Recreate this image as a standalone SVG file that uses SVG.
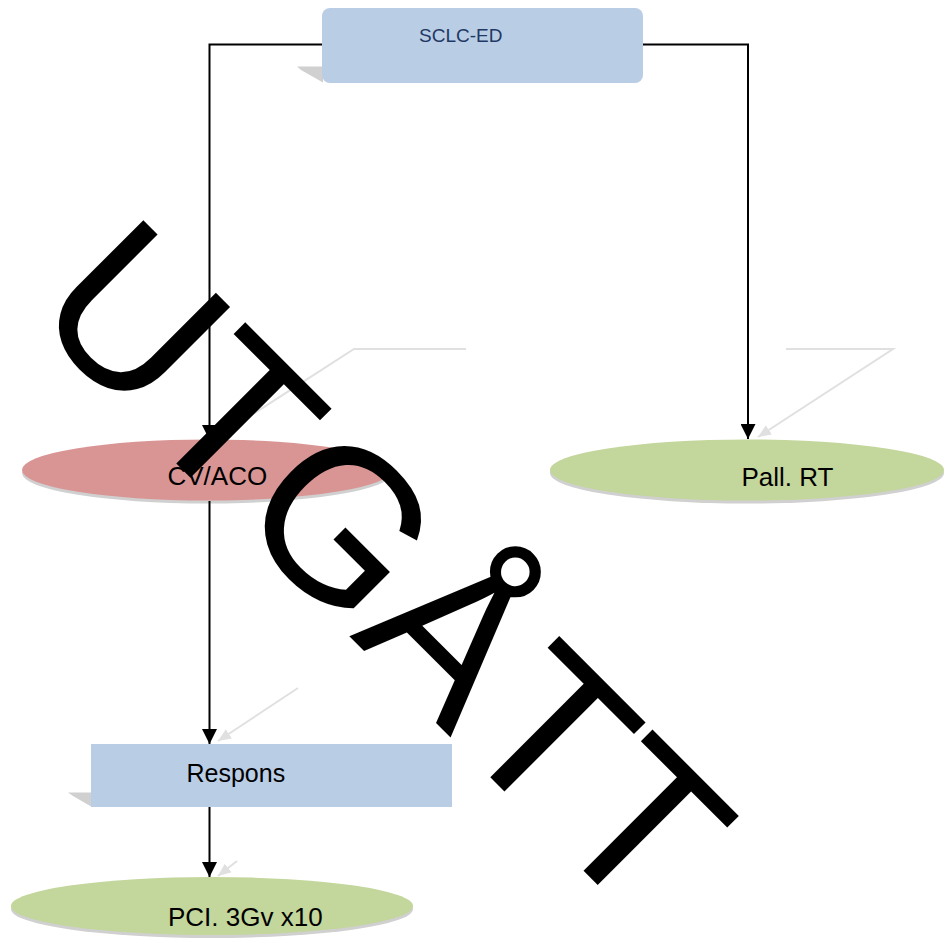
<svg xmlns="http://www.w3.org/2000/svg" width="945" height="940" viewBox="0 0 945 940">
<defs>
<style>
.lbl{font-family:"Liberation Sans",Arial,sans-serif;fill:#000}
.blue{fill:#B9CDE5}
.red{fill:#D99594}
.green{fill:#C3D69B}
.shadow{fill:#D0D0D0}
.conn{fill:none;stroke:#000;stroke-width:2}
.ghost{fill:none;stroke:#E0E0E0;stroke-width:2}
.wm{font-family:"Liberation Sans",Arial,sans-serif;font-size:216px;fill:#000}
</style>
<marker id="arr" viewBox="0 0 15 15" markerUnits="userSpaceOnUse" markerWidth="15" markerHeight="15" refX="15" refY="7.5" orient="auto">
<path d="M0,0 L15,7.5 L0,15 z" fill="#000"/>
</marker>
<marker id="garr" viewBox="0 0 13 11" markerUnits="userSpaceOnUse" markerWidth="13" markerHeight="11" refX="13" refY="5.5" orient="auto">
<path d="M0,0 L13,5.5 L0,11 z" fill="#E0E0E0"/>
</marker>
</defs>
<rect width="945" height="940" fill="#fff"/>

<g id="ghost-connectors">
<path class="ghost" d="M466,349 H354 L219,436" marker-end="url(#garr)"/>
<path class="ghost" d="M786,349 H893 L758,437" marker-end="url(#garr)"/>
<path class="ghost" d="M298,688 L218,741" marker-end="url(#garr)"/>
<path class="ghost" d="M237,861 L218,876" marker-end="url(#garr)"/>
</g>

<g id="node-sclc">
<polygon class="shadow" points="297,66.5 323,66.5 323,82.5 301,70"/>
<rect class="blue" x="322" y="8" width="321" height="75" rx="8" ry="8"/>
<text class="lbl" x="419" y="42" font-size="19" style="fill:#1F3864">SCLC-ED</text>
</g>

<g id="node-cvaco">
<ellipse class="shadow" cx="207" cy="473" rx="185" ry="30.5"/>
<ellipse class="red" cx="207" cy="470" rx="185" ry="30.5"/>
<text class="lbl" x="167.5" y="485" font-size="26">CV/ACO</text>
</g>

<g id="node-pallrt">
<ellipse class="shadow" cx="747" cy="473" rx="197" ry="30.5"/>
<ellipse class="green" cx="747" cy="470" rx="197" ry="30.5"/>
<text class="lbl" x="741.5" y="486" font-size="26">Pall. RT</text>
</g>

<g id="node-respons">
<polygon class="shadow" points="68,792.5 92,792.5 92,807 73,796"/>
<rect class="blue" x="91" y="744" width="361" height="63"/>
<text class="lbl" x="186.5" y="781.5" font-size="25">Respons</text>
</g>

<g id="node-pci">
<ellipse class="shadow" cx="212" cy="909" rx="201" ry="29"/>
<ellipse class="green" cx="212" cy="906" rx="201" ry="29"/>
<text class="lbl" x="168" y="926" font-size="26">PCI. 3Gv x10</text>
</g>

<g id="connectors">
<path class="conn" d="M322,44.5 H209.5 V440" marker-end="url(#arr)"/>
<path class="conn" d="M643,44.5 H748 V439" marker-end="url(#arr)"/>
<path class="conn" d="M209.5,501 V744" marker-end="url(#arr)"/>
<path class="conn" d="M209.5,807 V877" marker-end="url(#arr)"/>
</g>

<g id="watermark">
<text class="wm" transform="translate(26.5,313.6) rotate(45)">UTGÅTT</text>
</g>
</svg>
